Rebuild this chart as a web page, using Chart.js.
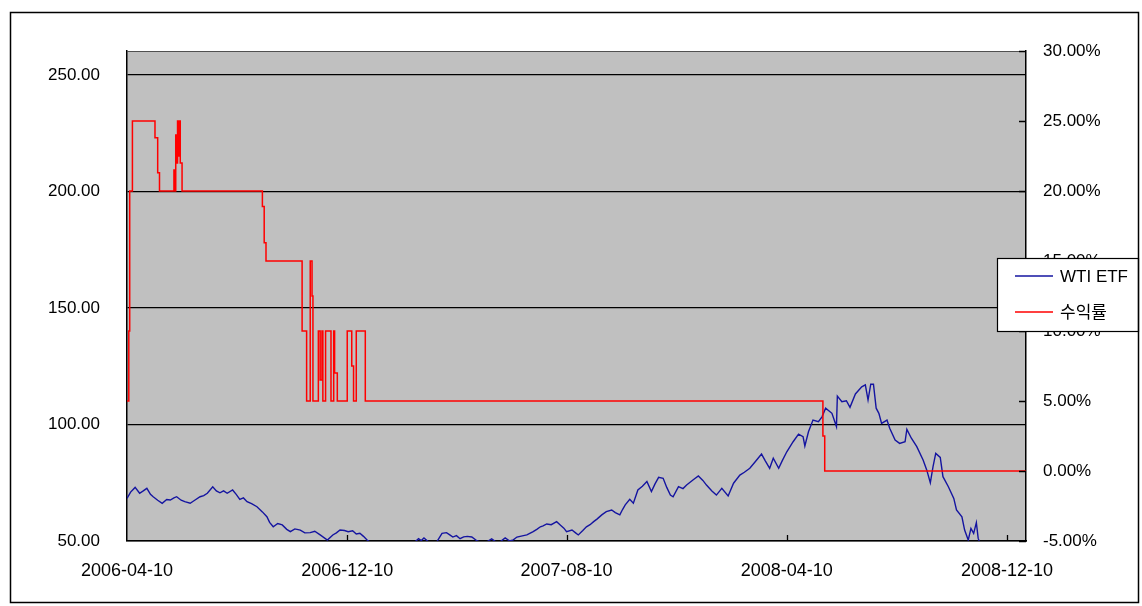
<!DOCTYPE html>
<html lang="ko">
<head>
  <meta charset="UTF-8" />
  <title>WTI ETF / 수익률</title>
  <script src="https://cdn.jsdelivr.net/npm/chart.js"></script>
  <style>
    html, body { margin: 0; padding: 0; background: #fff; }
    #wrap { position: relative; width: 1142px; height: 606px; }
  </style>
</head>
<body>
  <div id="wrap"><canvas id="etfChart"></canvas></div>

  <script>
    // x values are calendar days counted from startDate
    const startDate = '2006-04-10';
    const endDate = '2008-12-31';
    const xTickLabels = ['2006-04-10', '2006-12-10', '2007-08-10', '2008-04-10', '2008-12-10'];
    const leftTicks = [50, 100, 150, 200, 250];
    const rightTicks = [-5, 0, 5, 10, 15, 20, 25, 30];
    const seriesNames = ['WTI ETF', '수익률'];

    // WTI ETF price (left axis)
    const wtiDays = [
      0, 4, 9, 14, 18, 22, 26, 29, 34, 39, 44, 48, 52, 55, 60, 64, 70, 75, 81, 85,
      89, 95, 99, 103, 107, 111, 117, 121, 125, 129, 133, 138, 144, 150, 155, 158, 162, 167, 172, 177,
      181, 186, 192, 197, 203, 208, 214, 222, 228, 232, 236, 241, 245, 250, 254, 258, 262, 266, 273, 280,
      290, 302, 312, 319, 323, 326, 329, 336, 343, 349, 354, 358, 361, 365, 369, 373, 377, 382, 388, 396,
      404, 411, 419, 424, 428, 432, 438, 443, 450, 454, 458, 461, 465, 470, 476, 480, 484, 487, 493, 497,
      500, 505, 509, 513, 517, 521, 526, 531, 537, 541, 546, 549, 552, 557, 561, 566, 571, 576, 581, 585,
      589, 594, 598, 602, 605, 611, 616, 620, 627, 633, 638, 642, 648, 653, 659, 666, 672, 679, 684, 690,
      696, 703, 707, 712, 716, 722, 726, 731, 738, 744, 749, 751, 755, 760, 766, 770, 774, 781, 786, 787,
      792, 797, 801, 807, 814, 818, 821, 824, 827, 830, 833, 836, 842, 845, 851, 856, 862, 864, 869, 875,
      882, 886, 890, 893, 896, 901, 904, 910, 916, 919, 925, 928, 932, 935, 938, 941, 943, 945, 952, 960
    ];
    const wtiValues = [
      68.3, 71.0, 73.0, 70.5, 71.5, 72.6, 70.0, 69.0, 67.5, 66.2, 67.8, 67.6, 68.5, 69.0, 67.5, 66.9, 66.2, 67.5, 69.0, 69.5,
      70.5, 73.3, 71.5, 70.7, 71.5, 70.5, 71.9, 70.0, 67.9, 68.5, 66.9, 66.0, 64.7, 62.5, 60.4, 58.0, 56.1, 57.5, 56.9, 55.0,
      54.0, 55.2, 54.7, 53.5, 53.6, 54.2, 52.6, 50.4, 52.6, 53.5, 54.7, 54.5, 54.0, 54.4, 53.0, 53.3, 52.0, 50.4, 48.5, 47.0,
      46.5, 46.0, 48.0, 49.6, 51.0, 50.2, 51.3, 49.0, 49.5, 53.3, 53.6, 52.5, 51.7, 52.3, 51.0, 51.8, 52.0, 51.7, 50.0, 49.0,
      50.9, 49.0, 51.3, 50.0, 50.5, 51.7, 52.2, 52.6, 54.0, 55.0, 56.1, 56.5, 57.3, 57.0, 58.3, 56.9, 55.5, 54.0, 54.7, 53.5,
      52.6, 54.5, 56.1, 57.0, 58.3, 59.5, 61.2, 62.6, 63.3, 62.2, 61.2, 63.5, 65.5, 67.9, 66.2, 71.9, 73.5, 75.5, 71.2, 74.5,
      77.3, 76.9, 73.0, 69.7, 69.0, 73.3, 72.5, 74.0, 76.2, 77.9, 76.0, 74.0, 71.5, 69.7, 72.6, 69.3, 74.8, 78.3, 79.5, 81.2,
      84.0, 87.3, 84.5, 81.2, 85.5, 81.2, 84.5, 88.3, 92.6, 95.9, 94.8, 90.8, 96.9, 101.9, 101.2, 103.3, 107.0, 104.8, 99.1, 112.2,
      109.8, 110.2, 107.4, 113.1, 116.2, 117.0, 110.5, 117.3, 117.3, 107.0, 104.8, 100.5, 101.9, 98.4, 93.3, 91.9, 92.6, 97.9, 94.1, 90.5,
      84.8, 80.5, 75.0, 81.9, 87.6, 85.9, 77.6, 73.3, 68.3, 63.3, 60.4, 54.7, 50.4, 55.4, 53.3, 57.9, 51.2, 49.0, 46.0, 44.0
    ];

    // return in % (right axis), each value holds from its day on
    const returnDays = [
      0, 2, 3, 6, 31, 34, 36, 52, 53, 54, 55, 56, 57, 58, 59, 61, 150, 152, 154, 194,
      199, 203, 205, 206, 212, 214, 216, 217, 220, 226, 229, 230, 233, 244, 249, 251, 254, 264, 771, 773, 996
    ];
    const returnValues = [
      5, 10, 20, 25, 23.8, 21.3, 20, 21.5, 20, 24, 22, 25, 22.5, 25, 22, 20, 18.9, 16.3, 15, 10,
      5, 15, 12.5, 5, 10, 6.5, 10, 5, 10, 5, 10, 7, 5, 10, 7.5, 5, 10, 5, 2.5, 0, 0
    ];

    const dayMs = 86400000;
    const toDay = s => Math.round((Date.parse(s) - Date.parse(startDate)) / dayMs);
    const xTickDays = xTickLabels.map(toDay);
    const endDay = toDay(endDate);

    const fontFamily = '"Liberation Sans", "Noto Sans CJK KR", sans-serif';
    const tickFont = { family: fontFamily, size: 17 };
    const lineColors = ['#1414a0', '#ff0000'];

    const frame = {
      id: 'frame',
      beforeDraw(chart) {
        const { ctx, chartArea: a } = chart;
        ctx.save();
        ctx.fillStyle = '#c0c0c0';
        ctx.fillRect(a.left, a.top, a.right - a.left, a.bottom - a.top);
        ctx.restore();
      },
      afterDraw(chart) {
        const { ctx, chartArea: a } = chart;
        const xs = chart.scales.x, yr = chart.scales.y1;
        ctx.save();

        // top edge of the plot area
        ctx.strokeStyle = '#505050';
        ctx.lineWidth = 1.2;
        ctx.beginPath();
        ctx.moveTo(a.left, a.top + 0.5);
        ctx.lineTo(a.right, a.top + 0.5);
        ctx.stroke();

        // inside tick marks
        ctx.strokeStyle = '#000';
        ctx.lineWidth = 1.3;
        ctx.beginPath();
        xTickDays.slice(1).forEach(d => {
          const px = Math.round(xs.getPixelForValue(d)) + 0.5;
          ctx.moveTo(px, a.bottom);
          ctx.lineTo(px, a.bottom - 6);
        });
        rightTicks.forEach(v => {
          const py = Math.round(yr.getPixelForValue(v)) + 0.5;
          ctx.moveTo(a.right, py);
          ctx.lineTo(a.right - 7, py);
        });
        ctx.stroke();

        // legend box
        const lx = 997, ly = 258, lw = 142, lh = 74;
        ctx.fillStyle = '#fff';
        ctx.fillRect(lx, ly, lw, lh);
        ctx.strokeStyle = '#000';
        ctx.lineWidth = 1.2;
        ctx.strokeRect(lx + 0.5, ly + 0.5, lw - 1, lh - 1);
        ctx.font = '17px ' + fontFamily;
        ctx.textBaseline = 'middle';
        chart.data.datasets.forEach((ds, i) => {
          const cy = ly + 18 + i * 36;
          ctx.strokeStyle = ds.borderColor;
          ctx.lineWidth = 1.5;
          ctx.beginPath();
          ctx.moveTo(lx + 18, cy);
          ctx.lineTo(lx + 56, cy);
          ctx.stroke();
          ctx.fillStyle = '#000';
          ctx.fillText(ds.label, lx + 63, cy + 1);
        });

        // outer border of the chart
        ctx.strokeStyle = '#000';
        ctx.lineWidth = 1.5;
        ctx.strokeRect(10.5, 12.5, 1128, 590);
        ctx.restore();
      }
    };

    new Chart(document.getElementById('etfChart'), {
      type: 'line',
      data: {
        datasets: [
          {
            label: seriesNames[0],
            data: wtiDays.map((d, i) => ({ x: d, y: wtiValues[i] })),
            yAxisID: 'y',
            borderColor: lineColors[0],
            borderWidth: 1.4,
            pointRadius: 0,
            tension: 0,
            order: 1
          },
          {
            label: seriesNames[1],
            data: returnDays.map((d, i) => ({ x: d, y: returnValues[i] })),
            yAxisID: 'y1',
            borderColor: lineColors[1],
            borderWidth: 1.5,
            pointRadius: 0,
            stepped: true,
            order: 0
          }
        ]
      },
      options: {
        responsive: true,
        maintainAspectRatio: false,
        animation: false,
        layout: { padding: { top: 51, left: 0, right: 0, bottom: 0 } },
        plugins: {
          legend: { display: false },
          tooltip: { enabled: false }
        },
        scales: {
          x: {
            type: 'linear',
            min: 0,
            max: endDay,
            afterBuildTicks: s => { s.ticks = xTickDays.map(v => ({ value: v })); },
            afterFit: s => { s.height = 65; },
            ticks: {
              autoSkip: false,
              maxRotation: 0,
              padding: 19,
              color: '#000',
              font: { family: fontFamily, size: 18 },
              callback: (v, i) => xTickLabels[i]
            },
            grid: { display: false, drawTicks: false },
            border: { color: '#000', width: 1.5 }
          },
          y: {
            position: 'left',
            min: 50,
            max: 260.3,
            afterBuildTicks: s => { s.ticks = leftTicks.map(v => ({ value: v })); },
            afterFit: s => { s.width = 127; },
            ticks: {
              padding: 27,
              color: '#000',
              font: tickFont,
              callback: v => v.toFixed(2)
            },
            grid: { color: '#000', lineWidth: 1.2, drawTicks: false },
            border: { color: '#000', width: 1.5 }
          },
          y1: {
            position: 'right',
            min: -5,
            max: 30,
            afterBuildTicks: s => { s.ticks = rightTicks.map(v => ({ value: v })); },
            afterFit: s => { s.width = 116; },
            ticks: {
              padding: 17,
              color: '#000',
              font: tickFont,
              callback: v => v.toFixed(2) + '%'
            },
            grid: { drawOnChartArea: false, drawTicks: false },
            border: { color: '#000', width: 1.5 }
          }
        }
      },
      plugins: [frame]
    });
  </script>
</body>
</html>
